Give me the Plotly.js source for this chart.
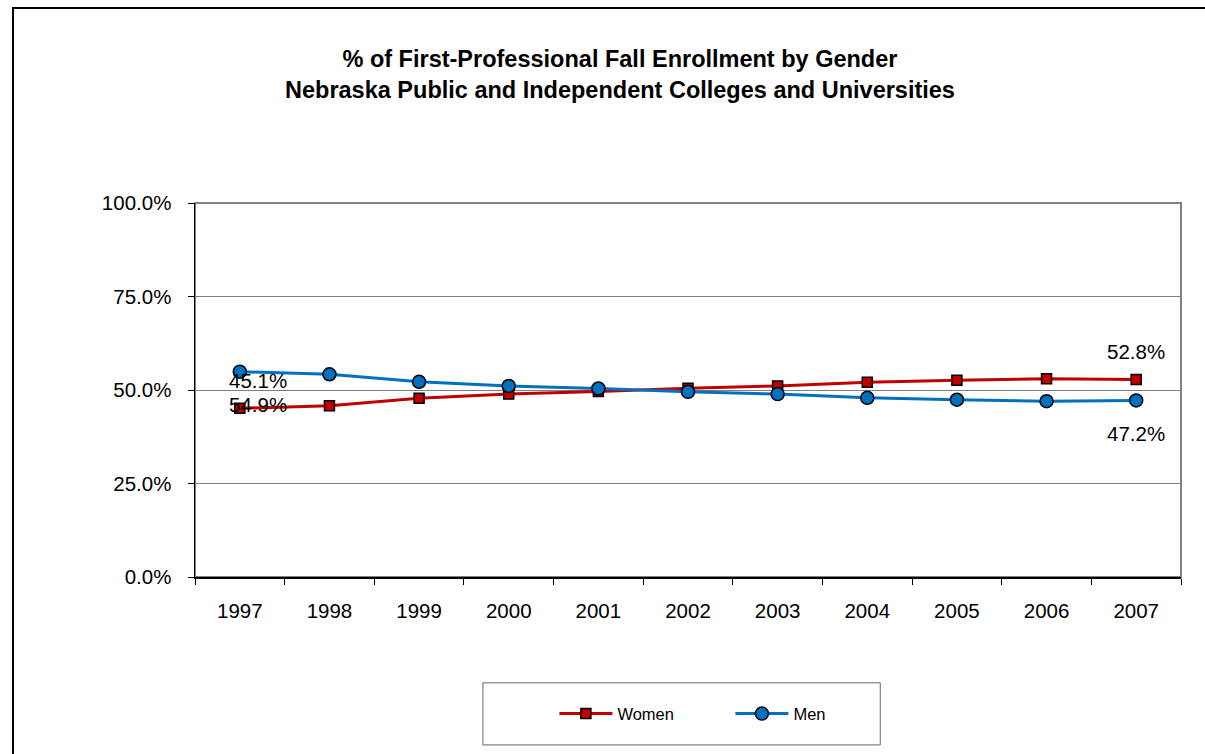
<!DOCTYPE html>
<html>
<head>
<meta charset="utf-8">
<script src="https://cdn.plot.ly/plotly-3.0.1.min.js"></script>
<style>
  html, body { margin: 0; padding: 0; background: #fff; overflow: hidden; }
  #wrap { position: relative; width: 1205px; height: 754px; overflow: hidden; }
  #chart { position: absolute; left: 0; top: 0; width: 1205px; height: 754px; }
  /* outer chart frame: only its top and left edges fall inside the page */
  .edge { position: absolute; background: #000; pointer-events: none; }
  #edgeTop { left: 12px; top: 7px; width: 1193px; height: 2px; }
  #edgeLeft { left: 12px; top: 7px; width: 2px; height: 747px; }
</style>
</head>
<body>
<div id="wrap">
  <div id="chart"></div>
  <div class="edge" id="edgeTop"></div>
  <div class="edge" id="edgeLeft"></div>
</div>
<script>
// Fall enrollment share by gender, first-professional programs
const years = ['1997', '1998', '1999', '2000', '2001', '2002', '2003', '2004', '2005', '2006', '2007'];
const women = [45.1, 45.8, 47.8, 48.9, 49.6, 50.5, 51.1, 52.1, 52.6, 53.0, 52.8];
const men   = [54.9, 54.2, 52.2, 51.1, 50.4, 49.5, 48.9, 47.9, 47.4, 47.0, 47.2];
const yTicks = [0, 25, 50, 75, 100];
const yTickText = yTicks.map(v => v.toFixed(1) + '%');

const FONT = 'Liberation Sans, Arial, sans-serif';
const RED = '#C00000';
const BLUE = '#0070C0';

const traces = [
  {
    x: years, y: women, name: 'Women', type: 'scatter', mode: 'lines+markers',
    line: { color: RED, width: 3 },
    marker: { symbol: 'square', size: 10, color: RED, line: { color: '#000', width: 1.5 } }
  },
  {
    x: years, y: men, name: 'Men', type: 'scatter', mode: 'lines+markers',
    line: { color: BLUE, width: 3 },
    marker: { symbol: 'circle', size: 13, color: BLUE, line: { color: '#000', width: 1.5 } }
  }
];

// value labels on the first and last points of each series (x given as category index)
const last = years.length - 1;
function lbl(i, v, above, xs) {
  return {
    x: i, y: v, xref: 'x', yref: 'y', text: v.toFixed(1) + '%',
    showarrow: false, xshift: xs, yshift: above ? 28 : -33,
    font: { family: FONT, size: 20.5, color: '#000' }
  };
}
const annotations = [
  lbl(0, women[0], true, 18),
  lbl(last, women[last], true, 0),
  lbl(0, men[0], false, 18),
  lbl(last, men[last], false, 0)
];

const layout = {
  width: 1205, height: 754,
  paper_bgcolor: 'rgba(0,0,0,0)', plot_bgcolor: '#fff',
  margin: { l: 195, r: 24, t: 203, b: 177 },
  font: { family: FONT, color: '#000' },
  title: {
    text: '<b>% of First-Professional Fall Enrollment by Gender<br>Nebraska Public and Independent Colleges and Universities</b>',
    font: { family: FONT, size: 23.5, color: '#000' },
    x: 0.5145, xref: 'container', xanchor: 'center',
    y: 0.911, yref: 'container', yanchor: 'top'
  },
  xaxis: {
    type: 'category', range: [-0.5, 10.5],
    tickson: 'boundaries', ticks: 'outside', ticklen: 6, tickcolor: '#000',
    showline: true, linecolor: '#000', linewidth: 1.5,
    showgrid: false, zeroline: false,
    tickfont: { family: FONT, size: 20.5, color: '#000' },
    ticklabelstandoff: 15
  },
  yaxis: {
    range: [0, 100], tickmode: 'array', tickvals: yTicks, ticktext: yTickText,
    ticks: 'outside', ticklen: 6, tickcolor: '#000',
    showline: true, linecolor: '#000', linewidth: 1.5,
    showgrid: true, gridcolor: '#7f7f7f', gridwidth: 1, zeroline: false,
    tickfont: { family: FONT, size: 20.5, color: '#000' },
    ticklabelstandoff: 12
  },
  shapes: [
    { type: 'rect', xref: 'paper', yref: 'paper', x0: 0, x1: 1, y0: 0, y1: 1,
      line: { color: '#808080', width: 2 }, layer: 'below' },
    { type: 'rect', xref: 'paper', yref: 'paper', x0: 0.292, x1: 0.695, y0: -0.449, y1: -0.283,
      line: { color: '#666', width: 1 }, fillcolor: 'rgba(0,0,0,0)' }
  ],
  showlegend: true,
  legend: {
    orientation: 'h', x: 0.543, xanchor: 'center', y: -0.366, yanchor: 'middle',
    bgcolor: 'rgba(0,0,0,0)', borderwidth: 0,
    font: { family: FONT, size: 16.5, color: '#000' },
    itemwidth: 53, entrywidth: 108, entrywidthmode: 'pixels'
  },
  annotations: annotations
};

Plotly.newPlot('chart', traces, layout, { staticPlot: true });
</script>
</body>
</html>
